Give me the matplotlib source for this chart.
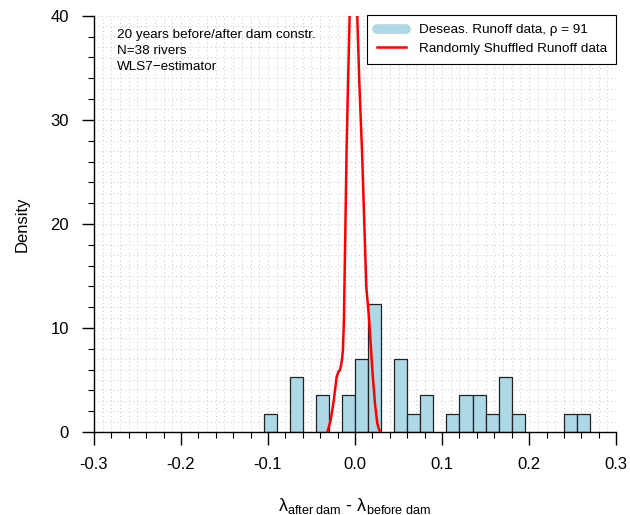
import numpy as np
import matplotlib
matplotlib.use("Agg")
import matplotlib.pyplot as plt
from matplotlib.ticker import MultipleLocator
from matplotlib.lines import Line2D

plt.rcParams["font.family"] = ["Liberation Sans", "DejaVu Sans"]
plt.rcParams["mathtext.fontset"] = "custom"
plt.rcParams["mathtext.rm"] = "Liberation Sans"
plt.rcParams["mathtext.it"] = "Liberation Sans:italic"

# ==========================
# DATOS
# ==========================

n_rivers = 38
bin_width = 0.015

# borde izquierdo de cada clase y numero de rios en ella
bin_left = [-0.105, -0.075, -0.045, -0.015, 0.0, 0.015, 0.045, 0.06, 0.075,
            0.105, 0.12, 0.135, 0.15, 0.165, 0.18, 0.24, 0.255]
bin_count = [1, 3, 2, 2, 4, 7, 4, 1, 2,
             1, 2, 2, 1, 3, 1, 1, 1]

# densidad de los datos barajados
shuf_x = [-0.0318, -0.030, -0.028, -0.0261, -0.0243, -0.0211, -0.0190, -0.0174,
          -0.0160, -0.0146, -0.0139, -0.0128, -0.0110, -0.0097, -0.0080, -0.0062,
          -0.0040, -0.0020, 0.0, 0.0015, 0.0026, 0.0050, 0.0080, 0.0105, 0.0130,
          0.0160, 0.0199, 0.0229, 0.0256, 0.0275, 0.0294]
shuf_y = [0.0, 0.5, 1.15, 2.1, 3.1, 5.3, 5.8, 5.95,
          6.4, 7.2, 7.9, 10.5, 20.0, 27.1, 33.5, 40.0,
          47.0, 49.5, 48.5, 44.0, 40.0, 33.5, 27.1, 20.5, 13.9,
          11.1, 6.0, 2.76, 0.84, 0.25, 0.0]

xtick_vals = [-0.3, -0.2, -0.1, 0.0, 0.1, 0.2, 0.3]
xtick_labels = ["-0.3", "-0.2", "-0.1", "0.0", "0.1", "0.2", "0.3"]

texto = ["20 years before/after dam constr.", "N=38 rivers", "WLS7\u2212estimator"]
leyenda = ["Deseas. Runoff data, \u03c1 = 91", "Randomly Shuffled Runoff data"]

# ==========================
# GRAFICO
# ==========================

fig = plt.figure(figsize=(6.3, 5.15), dpi=100)
ax = fig.add_axes([0.149, 0.1612, 0.829, 0.808])

# rejilla punteada de fondo
for gx in np.arange(-0.3, 0.3001, 0.01):
    ax.axvline(gx, color="#c8c8c8", lw=0.7, ls=(0, (1, 3)), zorder=0)
for gy in np.arange(0, 40.01, 1):
    ax.axhline(gy, color="#c8c8c8", lw=0.7, ls=(0, (1, 3)), zorder=0)

densidad = np.array(bin_count) / (n_rivers * bin_width)
ax.bar(bin_left, densidad, width=bin_width, align="edge",
       color="lightblue", edgecolor="#222222", linewidth=0.9, zorder=2)

ax.plot(shuf_x, shuf_y, color="red", lw=1.8, zorder=3, clip_on=True)

ax.set_xlim(-0.3, 0.3)
ax.set_ylim(0, 40)

for s in ["top", "right"]:
    ax.spines[s].set_visible(False)
ax.spines["left"].set_linewidth(1.0)
ax.spines["bottom"].set_linewidth(1.0)

ax.set_xticks(xtick_vals)
ax.set_xticklabels(xtick_labels)
ax.xaxis.set_minor_locator(MultipleLocator(0.02))
ax.yaxis.set_major_locator(MultipleLocator(10))
ax.yaxis.set_minor_locator(MultipleLocator(2))
ax.tick_params(which="major", length=9, width=1.0, labelsize=12, pad=9)
ax.tick_params(which="minor", length=4.5, width=0.8)

ax.set_ylabel("Density", fontsize=12, labelpad=15)
ax.set_xlabel("\u03bb$_{\\mathrm{after\\ dam}}$ - \u03bb$_{\\mathrm{before\\ dam}}$",
              fontsize=13, labelpad=17)

for i, t in enumerate(texto):
    ax.text(0.044, 0.954 - i * 0.0385, t, transform=ax.transAxes,
            fontsize=9.7, va="center", ha="left")

handles = [
    Line2D([], [], color="lightblue", lw=7, solid_capstyle="round"),
    Line2D([], [], color="red", lw=1.8),
]
leg = ax.legend(handles, leyenda,
                loc="upper right", bbox_to_anchor=(1.0, 1.003), fontsize=9.7,
                frameon=True, fancybox=False, edgecolor="black", framealpha=1,
                borderpad=0.7, handlelength=2.2, handletextpad=0.9,
                labelspacing=0.45, borderaxespad=0.0)
leg.get_frame().set_linewidth(0.8)

plt.savefig("out.png", dpi=100)
